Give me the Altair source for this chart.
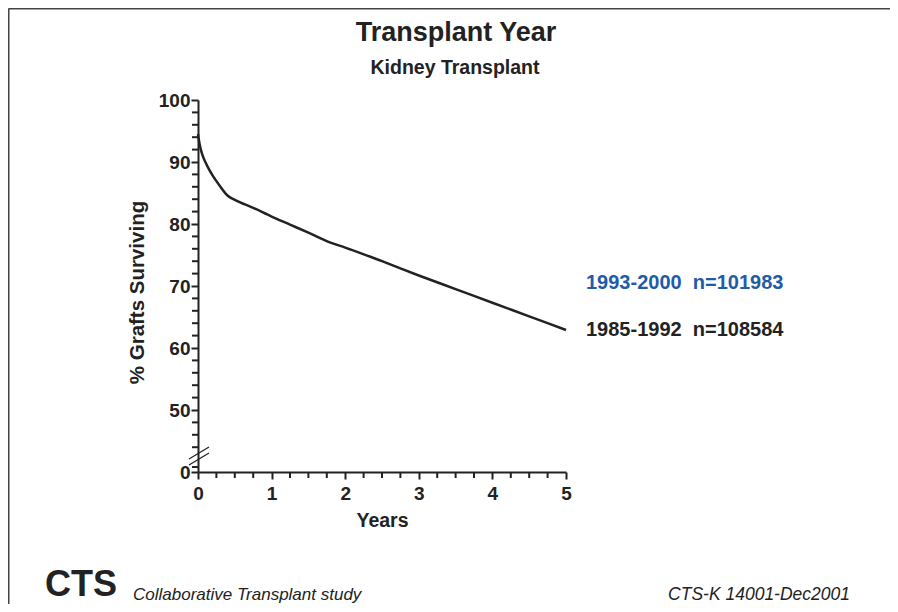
import altair as alt
import pandas as pd

# ---- data ----
years = [0.0, 0.02, 0.05, 0.1, 0.15, 0.2, 0.3, 0.4, 0.5, 0.75, 1.0, 1.25, 1.5, 1.8,
         2.0, 2.5, 3.0, 3.5, 4.0, 4.5, 5.0]
surv_1985 = [94.5, 93.0, 91.5, 90.0, 88.8, 87.8, 86.1, 84.6, 83.9, 82.6, 81.2, 79.9, 78.6, 77.0,
             76.2, 74.0, 71.7, 69.5, 67.3, 65.1, 62.9]
series_names = ["1993-2000", "1985-1992"]
series_n = [101983, 108584]
series_colors = ["#1f5ca8", "#222222"]
x_major = [0, 1, 2, 3, 4, 5]
x_minor = [0.25, 0.5, 0.75, 1.25, 1.5, 1.75, 2.25, 2.5, 2.75, 3.25, 3.5, 3.75,
           4.25, 4.5, 4.75]
y_major = [40, 50, 60, 70, 80, 90, 100]   # 40 is drawn as the broken-axis "0"
y_minor = [40.8, 44, 46, 48, 52, 54, 56, 58, 62, 64, 66, 68, 72, 74, 76, 78,
           82, 84, 86, 88, 92, 94, 96, 98]

FONT = "Liberation Sans"
W, H = 368, 372
NB = "\u00a0"

curve_df = pd.DataFrame({"Years": years, "Surv": surv_1985})
xminor_df = pd.DataFrame({"v": x_minor})
yminor_df = pd.DataFrame({"v": y_minor})

xscale = alt.Scale(domain=[0, 5], nice=False, zero=False)
yscale = alt.Scale(domain=[40, 100], nice=False, zero=False)

line = alt.Chart(curve_df).mark_line(color="#222222", strokeWidth=2.5, interpolate="monotone").encode(
    x=alt.X("Years:Q", scale=xscale,
            axis=alt.Axis(values=x_major, format="d", title="Years", tickSize=7, tickWidth=2,
                          tickColor="#222", domainColor="#222", domainWidth=2, grid=False,
                          labelFont=FONT, labelFontSize=19, labelFontWeight="bold",
                          labelColor="#222", labelPadding=5, labelFlush=False,
                          titleFont=FONT, titleFontSize=19.5, titleFontWeight="bold",
                          titleColor="#222", titlePadding=8)),
    y=alt.Y("Surv:Q", scale=yscale,
            axis=alt.Axis(values=y_major, title="% Grafts Surviving", tickSize=7, tickWidth=2,
                          tickColor="#222", domainColor="#222", domainWidth=2, grid=False,
                          labelExpr="datum.value == 40 ? '0' : datum.value",
                          labelFont=FONT, labelFontSize=19, labelFontWeight="bold",
                          labelColor="#222", labelPadding=1, labelFlush=False,
                          titleFont=FONT, titleFontSize=20.5, titleFontWeight="bold",
                          titleColor="#222", titlePadding=11, titleY=192)),
)

xminor = alt.Chart(xminor_df).mark_rule(color="#222", strokeWidth=2).encode(
    x=alt.X("v:Q", scale=xscale), y=alt.value(H), y2=alt.value(H + 6))
yminor = alt.Chart(yminor_df).mark_rule(color="#222", strokeWidth=2).encode(
    y=alt.Y("v:Q", scale=yscale), x=alt.value(-6), x2=alt.value(0))

one = alt.Data(values=[{}])

def txt(text, x, y, size, weight="bold", style="normal", align="left", color="#222",
        baseline="middle"):
    return alt.Chart(one).mark_text(font=FONT, fontSize=size, fontWeight=weight, fontStyle=style,
                                    align=align, baseline=baseline, color=color).encode(
        x=alt.value(x), y=alt.value(y), text=alt.value(text))

def seg(x1, y1, x2, y2, width=1.3, color="#222"):
    return alt.Chart(one).mark_rule(color=color, strokeWidth=width).encode(
        x=alt.value(x1), y=alt.value(y1), x2=alt.value(x2), y2=alt.value(y2))

layers = [
    seg(-189.5, -91.5, 692, -91.5, 2, "#444"),
    seg(-189.5, -91.5, -189.5, 504, 2, "#444"),
    line, xminor, yminor,
    seg(-9, 359, 11, 347),
    seg(-9, 365, 11, 353),
    txt("Transplant Year", 258, -67, 27, align="center"),
    txt("Kidney Transplant", 257, -32, 19.5, align="center"),
    txt(f"{series_names[0]}{NB}{NB}n={series_n[0]}", 388, 183, 20, color=series_colors[0]),
    txt(f"{series_names[1]}{NB}{NB}n={series_n[1]}", 388, 230, 20, color=series_colors[1]),
    txt("CTS", -153, 503.5, 36, baseline="bottom"),
    txt("Collaborative Transplant study", -65, 503.5, 17, weight="normal", style="italic",
        baseline="bottom"),
    txt("CTS-K 14001-Dec2001", 652, 503.5, 17.5, weight="normal", style="italic", align="right",
        baseline="bottom"),
]

chart = alt.layer(*layers).properties(
    width=W, height=H, autosize="none",
    padding={"left": 190, "top": 92, "right": 324, "bottom": 132},
).configure_view(stroke=None)

chart.save("out.html", embed_options={"renderer": "svg", "actions": False})
